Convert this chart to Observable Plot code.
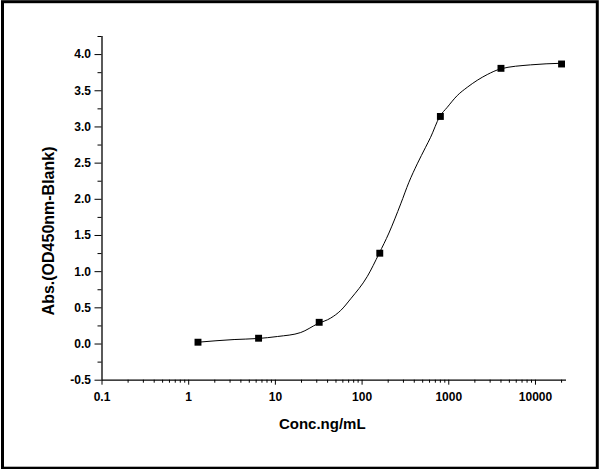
<!DOCTYPE html>
<html><head><meta charset="utf-8">
<script src="https://cdn.jsdelivr.net/npm/d3@7"></script>
<script src="https://cdn.jsdelivr.net/npm/@observablehq/plot@0.6"></script>
<style>body{margin:0;background:#fff}</style>
</head><body><div id="chart"></div>
<script>
// measured standards
const concentrations = [1.28, 6.4, 32, 160, 800, 4000, 20000];
const absorbance = [0.025, 0.08, 0.30, 1.255, 3.145, 3.81, 3.87];
// fitted curve
const curveConc = [1.28, 3.34, 6.22, 10.6, 19.6, 30.6, 43.5, 56.6, 73.9, 115, 157, 204, 279, 347, 433, 540, 617, 783, 961, 1253, 1634, 2778, 3953, 8758, 20000];
const curveAbs  = [0.025, 0.062, 0.076, 0.104, 0.159, 0.279, 0.359, 0.463, 0.625, 0.935, 1.25, 1.534, 1.937, 2.236, 2.49, 2.719, 2.857, 3.139, 3.272, 3.434, 3.548, 3.724, 3.802, 3.858, 3.88];
// ticks
const xMajorTicks = [0.1, 1, 10, 100, 1000, 10000];
const xMajorLabels = ["0.1", "1", "10", "100", "1000", "10000"];
const xMinorTicks = [0.2,0.3,0.4,0.5,0.6,0.7,0.8,0.9, 2,3,4,5,6,7,8,9, 20,30,40,50,60,70,80,90, 200,300,400,500,600,700,800,900, 2000,3000,4000,5000,6000,7000,8000,9000, 20000];
const yMajorTicks = [-0.5, 0, 0.5, 1, 1.5, 2, 2.5, 3, 3.5, 4];
const yMinorTicks = [-0.25, 0.25, 0.75, 1.25, 1.75, 2.25, 2.75, 3.25, 3.75, 4.25];
const xLabel = "Conc.ng/mL";
const yLabel = "Abs.(OD450nm-Blank)";

const points = concentrations.map((c, i) => ({x: c, y: absorbance[i]}));
const curve = curveConc.map((c, i) => ({x: c, y: curveAbs[i]}));
const xFmt = d => xMajorLabels[xMajorTicks.findIndex(t => Math.abs(t - d) < 1e-9 * Math.max(1, t))] ?? "";

const chart = Plot.plot({
  width: 601,
  height: 469,
  marginLeft: 101.5,
  marginRight: 35,
  marginTop: 36,
  marginBottom: 89.3,
  style: {fontFamily: "'Liberation Sans', Arial, sans-serif", fontSize: "12px", fontWeight: "bold", background: "#fff", color: "#000"},
  x: {type: "log", domain: [0.1, 22800]},
  y: {domain: [-0.5, 4.25]},
  marks: [
    Plot.frame({stroke: "#000", strokeWidth: 3, insetLeft: -99.5, insetRight: -30.8, insetTop: -34.8, insetBottom: -88}),
    Plot.axisX({ticks: xMajorTicks, tickSize: 5, tickPadding: 7, tickFormat: xFmt, label: null, fontWeight: "bold", fontSize: 12}),
    Plot.axisX({ticks: xMinorTicks, tickSize: 3, tickFormat: () => "", label: null}),
    Plot.axisY({ticks: yMajorTicks, tickSize: 7, tickPadding: 4, tickFormat: d => d.toFixed(1), label: null, fontWeight: "bold", fontSize: 12}),
    Plot.axisY({ticks: yMinorTicks, tickSize: 4, tickFormat: () => "", label: null}),
    Plot.ruleY([-0.5], {stroke: "#000", strokeWidth: 1.3}),
    Plot.ruleX([0.1], {stroke: "#000", strokeWidth: 1.3}),
    Plot.line(curve, {x: "x", y: "y", curve: "monotone-x", stroke: "#000", strokeWidth: 1}),
    Plot.dot(points, {x: "x", y: "y", symbol: "square", r: 3.9, fill: "#000", stroke: "none"}),
    Plot.text([xLabel], {frameAnchor: "bottom", dx: -12, dy: 48.5, lineAnchor: "bottom", textAnchor: "middle", fontSize: 15, fontWeight: "bold"}),
    Plot.text([yLabel], {frameAnchor: "left", rotate: -90, dx: -53, dy: 22.6, lineAnchor: "middle", textAnchor: "middle", fontSize: 16, fontWeight: "bold"})
  ]
});
document.getElementById("chart").appendChild(chart);
</script>
</body></html>
